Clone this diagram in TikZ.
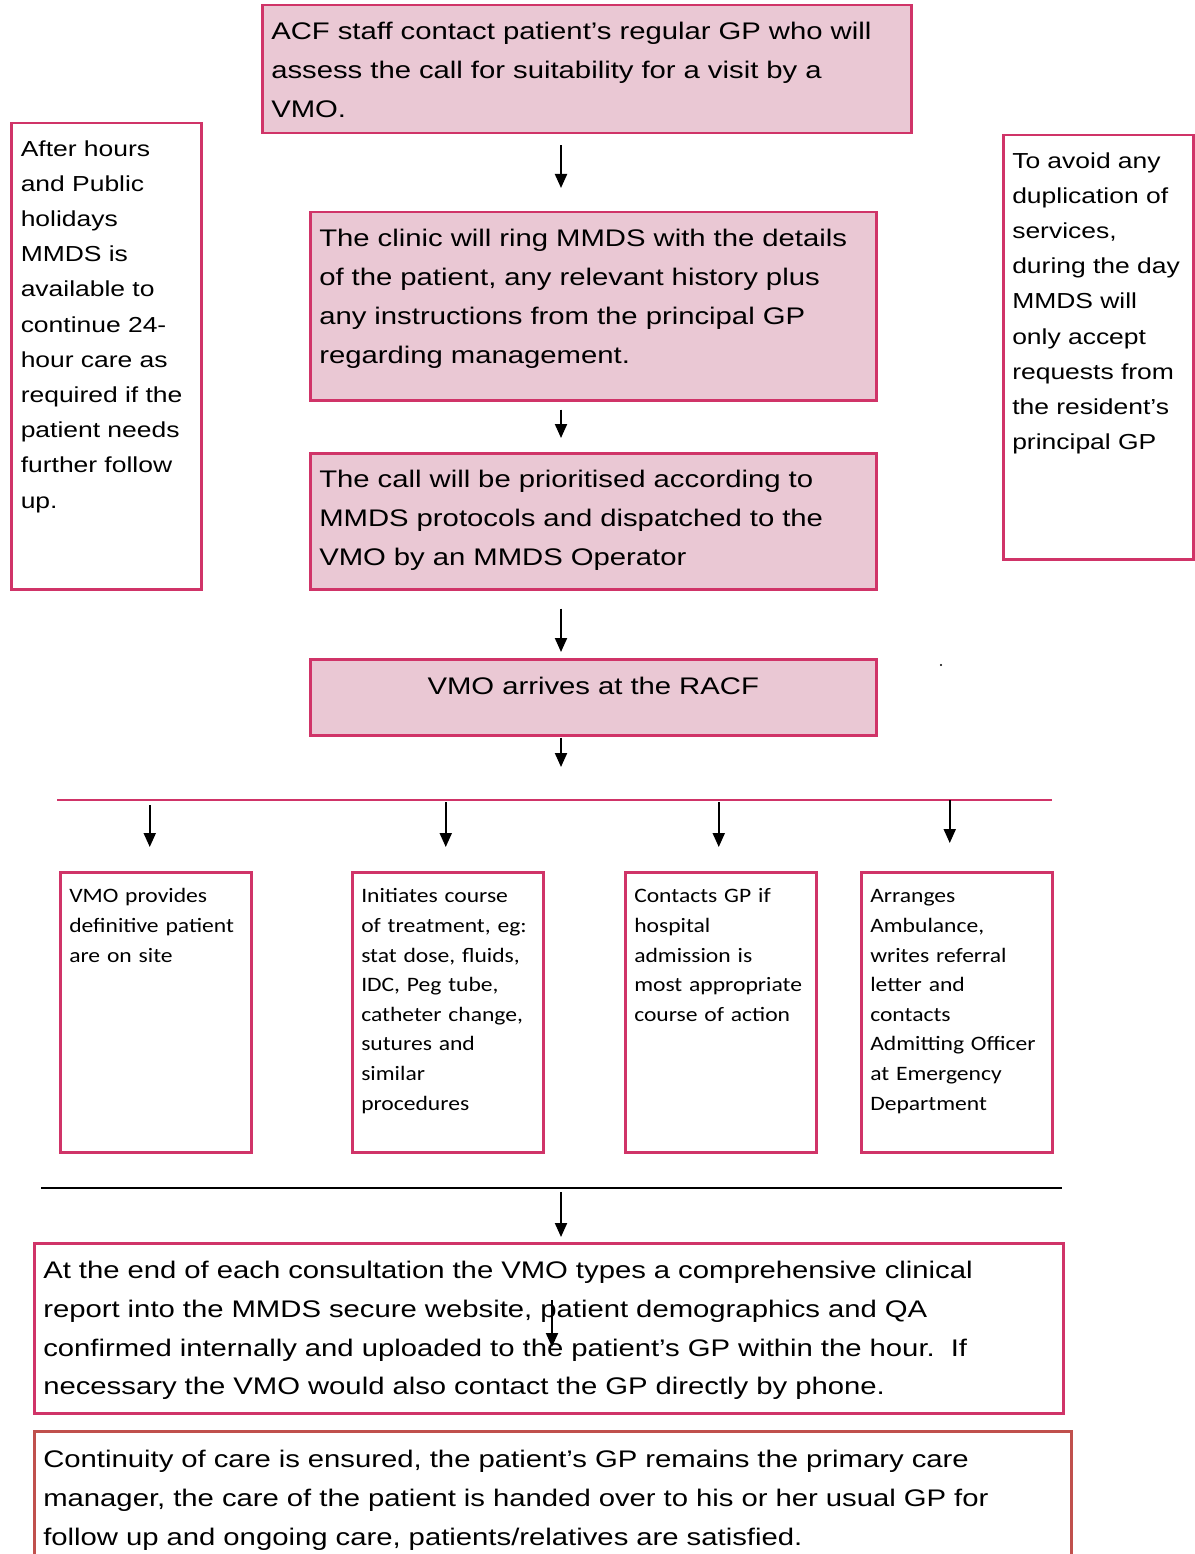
\documentclass[tikz,border=0pt]{standalone}
\usepackage{fontspec}
\setmainfont{Liberation Sans}[FakeStretch=1.22]
\newfontfamily\calfont{Carlito}[FakeStretch=1.15]
\usetikzlibrary{arrows.meta}

\definecolor{boxline}{RGB}{208,52,104}
\definecolor{boxfill}{RGB}{234,200,212}
\definecolor{lastline}{RGB}{192,80,77}

\tikzset{
  flowbox/.style={draw=boxline, line width=2.5pt, anchor=north west, inner xsep=9pt, inner ysep=0pt, align=left},
  pinkbox/.style={flowbox, fill=boxfill, font=\fontsize{24}{39}\selectfont},
  sidebox/.style={flowbox, fill=white, inner xsep=9.5pt, font=\fontsize{21.7}{35.2}\selectfont},
  actbox/.style={flowbox, fill=white, text width=173pt, text height=30.6pt, text depth=249.4pt, font=\calfont\fontsize{20.5}{29.6}\selectfont},
  arr/.style={line width=2pt, -{Triangle[length=14pt,width=12pt]}}
}

\begin{document}
\begin{tikzpicture}[x=1pt,y=-1pt]
\useasboundingbox (0,0) rectangle (1194,1554);

\node[pinkbox, text width=631pt, text height=34.6pt, text depth=93.4pt] (acf) at (261,4)
  {ACF staff contact patient’s regular GP who will\\assess the call for suitability for a visit by a\\VMO.};
\node[pinkbox, text width=548pt, text height=34.6pt, text depth=153.4pt] (clinic) at (309,211)
  {The clinic will ring MMDS with the details\\of the patient, any relevant history plus\\any instructions from the principal GP\\regarding management.};
\node[pinkbox, text width=548pt, text height=34.6pt, text depth=101.4pt] (prio) at (309,452)
  {The call will be prioritised according to\\MMDS protocols and dispatched to the\\VMO by an MMDS Operator};
\node[pinkbox, text width=548pt, text height=35.6pt, text depth=40.4pt, align=center] (arrive) at (309,658)
  {VMO arrives at the RACF};

\node[sidebox, text width=171pt, text height=32.9pt, text depth=433.1pt] (afterhrs) at (10,122)
  {After hours\\and Public\\holidays\\MMDS is\\available to\\continue 24-\\hour care as\\required if the\\patient needs\\further follow\\up.};
\node[sidebox, inner xsep=9pt, text width=172pt, text height=32.9pt, text depth=391.1pt] (daytime) at (1002,134)
  {To avoid any\\duplication of\\services,\\during the day\\MMDS will\\only accept\\requests from\\the resident’s\\principal GP};

\fill (941,665) circle (1.2);

\coordinate (spine) at (561,0);
\coordinate (barL) at (57,800);
\coordinate (barR) at (1052,800);
\draw[boxline, line width=2pt] (barL) -- (barR);

\node[actbox] (onsite) at (59,871) {VMO provides\\definitive patient\\are on site};
\node[actbox] (treat) at (351,871) {Initiates course\\of treatment, eg:\\stat dose, fluids,\\IDC, Peg tube,\\catheter change,\\sutures and\\similar\\procedures};
\node[actbox] (contactgp) at (624,871) {Contacts GP if\\hospital\\admission is\\most appropriate\\course of action};
\node[actbox] (ambulance) at (860,871) {Arranges\\Ambulance,\\writes referral\\letter and\\contacts\\Admitting Officer\\at Emergency\\Department};

\coordinate (lineL) at (41,1188);
\coordinate (lineR) at (1062,1188);
\draw[line width=2pt] (lineL) -- (lineR);

\node[flowbox, fill=white, text width=1011pt, text height=35.6pt, text depth=134.4pt, font=\fontsize{24}{38.7}\selectfont] (report) at (33,1242)
  {At the end of each consultation the VMO types a comprehensive clinical\\report into the MMDS secure website, patient demographics and QA\\confirmed internally and uploaded to the patient’s GP within the hour.\ \ If\\necessary the VMO would also contact the GP directly by phone.};
\node[flowbox, draw=lastline, fill=white, text width=1019pt, text height=36.6pt, text depth=103.4pt, font=\fontsize{24}{38.7}\selectfont] (continuity) at (33,1430)
  {Continuity of care is ensured, the patient’s GP remains the primary care\\manager, the care of the patient is handed over to his or her usual GP for\\follow up and ongoing care, patients/relatives are satisfied.};

\draw[arr, shorten <=11pt, shorten >=23pt] (acf.south -| spine) -- (clinic.north -| spine);
\draw[arr, shorten <=8pt, shorten >=14pt] (clinic.south -| spine) -- (prio.north -| spine);
\draw[arr, shorten <=18pt, shorten >=6pt] (prio.south -| spine) -- (arrive.north -| spine);
\draw[arr, shorten <=1pt, shorten >=33pt] (arrive.south -| spine) -- (spine |- barL);

\draw[arr, shorten <=5pt, shorten >=24pt] ([xshift=-6pt]onsite.north |- barL) -- ([xshift=-6pt]onsite.north);
\draw[arr, shorten <=2pt, shorten >=24pt] ([xshift=-2pt]treat.north |- barL) -- ([xshift=-2pt]treat.north);
\draw[arr, shorten <=2pt, shorten >=24pt] ([xshift=-2pt]contactgp.north |- barL) -- ([xshift=-2pt]contactgp.north);
\draw[arr, shorten >=28pt] ([xshift=-7pt]ambulance.north |- barL) -- ([xshift=-7pt]ambulance.north);

\draw[arr, shorten <=4pt, shorten >=5pt] (spine |- lineL) -- (report.north -| spine);

\coordinate (stray) at (552,1300);
\draw[arr] (stray) -- ++(0,47);
\end{tikzpicture}
\end{document}
